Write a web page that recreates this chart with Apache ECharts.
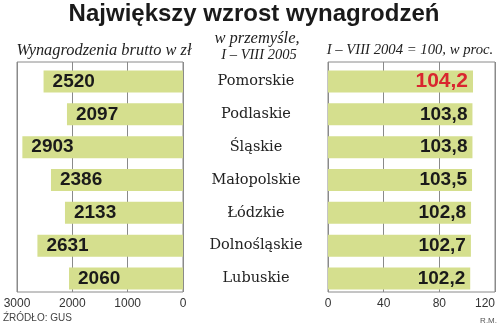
<!DOCTYPE html>
<html>
<head>
<meta charset="utf-8">
<script src="https://cdn.jsdelivr.net/npm/echarts@6/dist/echarts.min.js"></script>
<style>
html,body{margin:0;padding:0;background:#fff;}
#chart{width:500px;height:328px;}
</style>
</head>
<body>
<div id="chart"></div>
<script>
var categories = ['Pomorskie','Podlaskie','Śląskie','Małopolskie','Łódzkie','Dolnośląskie','Lubuskie'];
var wages = [2520, 2097, 2903, 2386, 2133, 2631, 2060];
var growth = [104.2, 103.8, 103.8, 103.5, 102.8, 102.7, 102.2];
var highlightIndex = 0;

var chart = echarts.init(document.getElementById('chart'), null, {renderer:'canvas'});
var barColor = '#d5df8e';
var lineColor = '#8a8a8a';
var serif = 'DejaVu Serif';
var sans = 'Liberation Sans';
function italic(size){ return 'italic ' + size + 'px "Liberation Serif"'; }

var growthData = growth.map(function(v, i){
  if (i === highlightIndex) {
    return {value: v, label: {color: '#d9262f', fontSize: 21}};
  }
  return v;
});

function frameX(gi, max, interval, alignMax){
  return {
    gridIndex: gi, type: 'value', min: 0, max: max, interval: interval,
    inverse: gi === 0,
    axisLine: {show: false}, axisTick: {show: false},
    splitLine: {show: true, lineStyle: {color: lineColor, width: 1}},
    axisLabel: {color: '#333', fontSize: 12, fontFamily: sans, margin: 6, alignMaxLabel: alignMax || null,
      formatter: function(v){ return String(v); }}
  };
}

var option = {
  animation: false,
  backgroundColor: '#fff',
  title: [{
    text: 'Największy wzrost wynagrodzeń',
    left: 254, top: 2, textAlign: 'center', padding: 0,
    textStyle: {fontFamily: sans, fontWeight: 'bold', fontSize: 24, color: '#1a1a1a'}
  }],
  grid: [
    {left: 17, top: 62, width: 166, height: 230, show: true, borderColor: lineColor, borderWidth: 1, backgroundColor: 'transparent'},
    {left: 17, top: 65, width: 166, height: 230},
    {left: 328, top: 62, width: 167, height: 230, show: true, borderColor: lineColor, borderWidth: 1, backgroundColor: 'transparent'},
    {left: 328, top: 65, width: 167, height: 230}
  ],
  xAxis: [
    frameX(0, 3000, 1000),
    {gridIndex: 1, type: 'value', min: 0, max: 3000, inverse: true, show: false},
    frameX(2, 120, 40, 'right'),
    {gridIndex: 3, type: 'value', min: 0, max: 120, show: false}
  ],
  yAxis: [
    {gridIndex: 0, type: 'category', data: categories, inverse: true, show: false},
    {gridIndex: 1, type: 'category', data: categories, inverse: true, show: false},
    {gridIndex: 2, type: 'category', data: categories, inverse: true, show: false},
    {gridIndex: 3, type: 'category', data: categories, inverse: true,
      axisLine: {show: false}, axisTick: {show: false}, splitLine: {show: false},
      axisLabel: {align: 'center', margin: 72, fontFamily: serif, fontSize: 14.5, color: '#222', padding: [0, 0, 4, 0]}}
  ],
  series: [
    {
      type: 'bar', xAxisIndex: 1, yAxisIndex: 1, data: wages, barWidth: 22,
      itemStyle: {color: barColor},
      label: {show: true, position: 'insideLeft', distance: 9, fontFamily: sans, fontWeight: 'bold', fontSize: 19, color: '#1a1a1a'}
    },
    {
      type: 'bar', xAxisIndex: 3, yAxisIndex: 3, data: growthData, barWidth: 22,
      itemStyle: {color: barColor},
      label: {show: true, position: 'insideRight', distance: 5, fontFamily: sans, fontWeight: 'bold', fontSize: 19, color: '#1a1a1a',
        formatter: function(p){ return p.value.toFixed(1).replace('.', ','); }}
    }
  ],
  graphic: [
    {type: 'text', x: 104, y: 51, style: {text: 'Wynagrodzenia brutto w zł', font: italic(16.4), fill: '#222', align: 'center', verticalAlign: 'middle'}},
    {type: 'text', x: 257, y: 39, style: {text: 'w przemyśle,', font: italic(16.5), fill: '#222', align: 'center', verticalAlign: 'middle'}},
    {type: 'text', x: 259, y: 55, style: {text: 'I – VIII 2005', font: italic(14.5), fill: '#222', align: 'center', verticalAlign: 'middle'}},
    {type: 'text', x: 410, y: 50, style: {text: 'I – VIII 2004 = 100, w proc.', font: italic(14.7), fill: '#222', align: 'center', verticalAlign: 'middle'}},
    {type: 'text', x: 3, y: 318, style: {text: 'ŹRÓDŁO: GUS', font: '10px "Liberation Sans Narrow", "Liberation Sans"', fill: '#444', align: 'left', verticalAlign: 'middle'}},
    {type: 'text', x: 497, y: 321, style: {text: 'R.M.', font: '8px "Liberation Sans"', fill: '#555', align: 'right', verticalAlign: 'middle'}}
  ]
};
chart.setOption(option);
</script>
</body>
</html>
